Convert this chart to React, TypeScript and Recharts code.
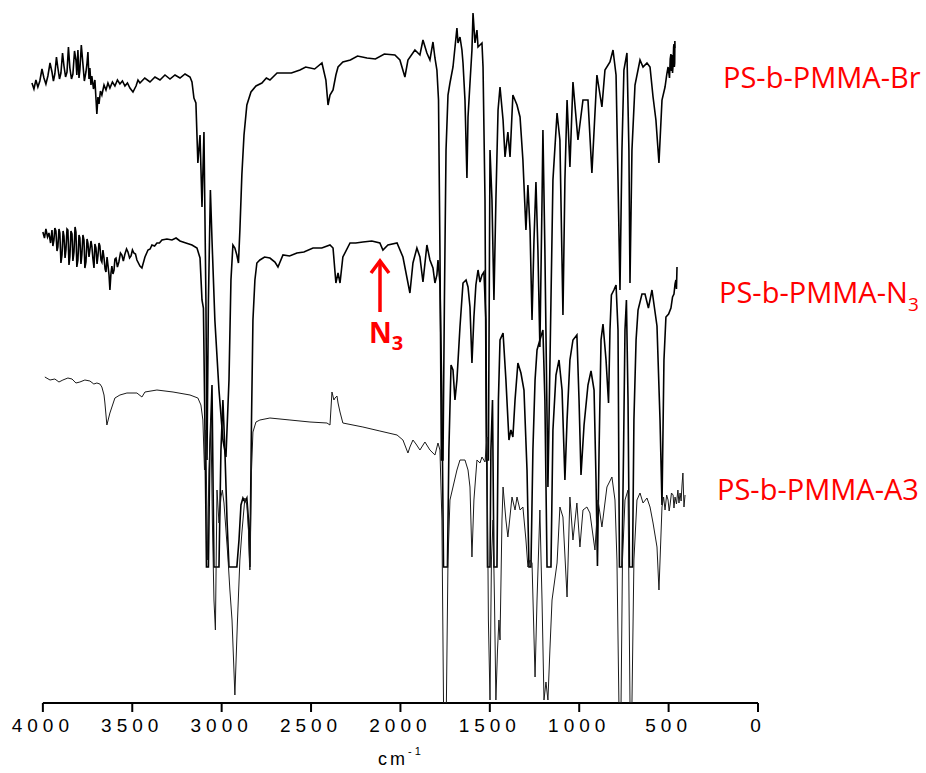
import { Line, LineChart, ReferenceLine, XAxis, YAxis } from "recharts";

const WN_TICKS = [4000, 3500, 3000, 2500, 2000, 1500, 1000, 500, 0];

// [wavenumber (cm-1), transmittance, offset (a.u.)]
const BR: [number, number][] = [
  [4061, 62.0], [4050, 61.4], [4039, 62.3], [4028, 61.6], [4017, 62.2], [4005, 63.4], [3994, 62.5],
  [3983, 61.9], [3972, 62.7], [3960, 64.0], [3949, 63.1], [3941, 62.2], [3933, 62.9], [3924, 64.6],
  [3916, 63.5], [3907, 62.4], [3899, 63.0], [3890, 65.0], [3882, 63.7], [3873, 62.6], [3865, 63.1],
  [3857, 65.6], [3849, 63.5], [3840, 62.4], [3832, 62.9], [3823, 65.2], [3815, 64.3], [3810, 62.8],
  [3804, 65.3], [3798, 62.5], [3793, 63.3], [3785, 65.8], [3776, 63.9], [3768, 62.2], [3759, 63.1],
  [3753, 64.0], [3748, 65.1], [3742, 62.4], [3737, 63.5], [3731, 61.8], [3726, 62.7], [3717, 61.4],
  [3709, 62.3], [3698, 58.9], [3692, 60.6], [3686, 59.9], [3678, 61.2], [3670, 60.8], [3658, 61.8],
  [3647, 61.3], [3636, 62.0], [3625, 61.5], [3611, 62.1], [3597, 61.7], [3583, 62.3], [3569, 61.9],
  [3555, 62.2], [3541, 61.7], [3527, 62.0], [3513, 61.5], [3496, 61.1], [3479, 61.7], [3468, 62.3],
  [3457, 62.0], [3430, 62.5], [3401, 62.1], [3373, 62.6], [3345, 62.3], [3317, 62.8], [3289, 62.4],
  [3261, 62.8], [3233, 62.5], [3205, 62.9], [3177, 62.6], [3166, 62.1], [3155, 60.5], [3144, 60.0],
  [3133, 54.0], [3121, 56.8], [3110, 49.6], [3099, 57.1], [3088, 40.3], [3082, 24.3], [3074, 40.3],
  [3063, 51.3], [3054, 46.3], [3038, 38.3], [3015, 31.3], [2993, 26.3], [2976, 24.6], [2959, 32.3],
  [2948, 42.3], [2937, 45.8], [2926, 45.5], [2915, 44.8], [2906, 44.0], [2898, 47.3], [2887, 52.8],
  [2875, 56.8], [2859, 59.8], [2836, 61.1], [2808, 61.7], [2775, 62.0], [2750, 62.5], [2730, 62.3],
  [2690, 63.0], [2657, 63.0], [2610, 63.0], [2562, 63.3], [2530, 63.6], [2480, 63.4], [2439, 64.0],
  [2417, 62.3], [2405, 59.8], [2394, 60.8], [2377, 61.3], [2361, 62.8], [2349, 63.6], [2322, 64.1],
  [2280, 64.3], [2240, 64.7], [2187, 64.5], [2140, 64.4], [2090, 64.9], [2031, 64.8], [2003, 64.3],
  [1975, 62.6], [1958, 64.3], [1919, 65.3], [1891, 64.8], [1874, 66.3], [1852, 65.0], [1835, 64.3],
  [1818, 66.1], [1807, 64.5], [1796, 63.3], [1787, 60.3], [1779, 45.3], [1771, 24.3], [1762, 24.3],
  [1754, 40.3], [1745, 55.3], [1734, 60.8], [1723, 62.0], [1706, 63.6], [1684, 67.5], [1678, 66.0],
  [1667, 66.6], [1656, 65.3], [1650, 64.0], [1639, 60.3], [1628, 52.5], [1622, 58.6], [1611, 62.0],
  [1600, 65.3], [1594, 69.0], [1583, 66.0], [1572, 67.3], [1566, 65.6], [1544, 66.0], [1538, 63.6],
  [1527, 50.3], [1519, 24.3], [1508, 24.3], [1499, 55.3], [1488, 50.3], [1477, 40.3], [1466, 50.3],
  [1454, 59.3], [1443, 61.6], [1426, 58.3], [1415, 54.6], [1399, 57.1], [1387, 54.6], [1371, 60.8],
  [1348, 59.8], [1331, 58.6], [1315, 54.3], [1298, 47.3], [1287, 51.8], [1275, 47.3], [1264, 38.3],
  [1253, 46.3], [1242, 52.1], [1231, 45.3], [1220, 35.6], [1208, 50.3], [1203, 57.3], [1192, 45.3],
  [1175, 21.6], [1158, 40.3], [1147, 52.3], [1124, 59.0], [1108, 56.3], [1091, 38.8], [1080, 52.3],
  [1068, 60.3], [1052, 53.6], [1035, 62.1], [1007, 56.3], [979, 60.3], [951, 60.3], [929, 53.0],
  [901, 62.8], [873, 59.6], [856, 63.3], [828, 64.1], [811, 65.3], [794, 62.8], [783, 52.3],
  [772, 41.3], [761, 55.3], [750, 63.3], [733, 65.0], [722, 55.3], [716, 42.0], [705, 55.3],
  [688, 61.8], [660, 64.3], [643, 63.6], [621, 64.0], [604, 63.6], [587, 60.6], [571, 58.3],
  [554, 54.0], [537, 60.3], [520, 61.6], [510, 62.9], [503, 63.6], [495, 62.5], [491, 64.4],
  [487, 64.9], [484, 63.2], [481, 64.8], [478, 63.0], [475, 63.8], [472, 65.6], [470, 65.9],
  [468, 63.6], [466, 64.0], [465, 66.2], [464, 65.5],
];

const N3: [number, number][] = [
  [4000, 47.1], [3991, 46.5], [3983, 47.4], [3974, 46.6], [3966, 47.0], [3957, 46.0], [3949, 47.3],
  [3944, 45.7], [3938, 46.3], [3933, 47.5], [3927, 47.2], [3921, 45.2], [3916, 45.6], [3910, 47.4],
  [3905, 47.0], [3899, 44.0], [3893, 44.8], [3887, 47.2], [3882, 46.7], [3876, 44.5], [3871, 45.3],
  [3865, 47.4], [3860, 47.3], [3854, 43.8], [3849, 44.6], [3843, 47.2], [3837, 46.9], [3832, 44.2],
  [3826, 45.1], [3820, 47.6], [3815, 47.1], [3810, 43.6], [3804, 44.3], [3798, 46.8], [3793, 46.5],
  [3787, 43.9], [3782, 44.8], [3776, 46.8], [3770, 46.3], [3765, 43.5], [3759, 44.1], [3753, 46.4],
  [3748, 46.0], [3742, 44.6], [3737, 45.3], [3731, 46.2], [3726, 45.7], [3720, 44.4], [3714, 43.5],
  [3709, 45.9], [3703, 45.5], [3697, 43.9], [3692, 44.7], [3686, 46.0], [3681, 45.7], [3675, 44.3],
  [3670, 44.1], [3664, 45.3], [3658, 44.5], [3652, 43.4], [3647, 43.1], [3641, 44.6], [3636, 43.8],
  [3630, 42.8], [3625, 41.3], [3619, 43.0], [3614, 43.7], [3608, 42.9], [3602, 43.3], [3597, 44.4],
  [3591, 44.5], [3583, 43.6], [3575, 44.1], [3566, 45.0], [3558, 44.8], [3550, 44.2], [3541, 44.9],
  [3532, 45.4], [3524, 45.1], [3515, 44.5], [3507, 44.7], [3499, 45.3], [3491, 45.0], [3482, 44.9],
  [3474, 44.3], [3457, 43.7], [3446, 43.5], [3429, 44.6], [3412, 45.3], [3400, 45.4], [3390, 45.8],
  [3375, 45.7], [3362, 46.0], [3348, 46.0], [3334, 46.3], [3306, 46.4], [3278, 46.3], [3255, 46.5],
  [3233, 46.2], [3200, 46.0], [3166, 45.8], [3138, 45.5], [3121, 44.5], [3110, 40.3], [3102, 39.5],
  [3094, 28.3], [3085, 13.6], [3074, 13.6], [3066, 25.3], [3054, 31.8], [3043, 13.6], [3015, 13.6],
  [3004, 25.3], [2993, 30.3], [2982, 25.3], [2970, 18.3], [2959, 13.6], [2915, 13.6], [2903, 16.3],
  [2892, 19.8], [2881, 20.5], [2870, 20.1], [2859, 20.5], [2850, 18.3], [2842, 13.6], [2833, 28.3],
  [2825, 38.3], [2814, 42.3], [2803, 44.0], [2786, 44.3], [2760, 44.6], [2730, 44.5], [2702, 44.1],
  [2685, 43.6], [2657, 44.8], [2620, 44.7], [2579, 45.0], [2540, 45.1], [2489, 45.5], [2440, 45.5],
  [2394, 45.8], [2377, 45.5], [2361, 42.0], [2349, 43.0], [2338, 42.0], [2322, 44.6], [2282, 46.0],
  [2250, 46.0], [2210, 46.1], [2160, 46.2], [2115, 46.0], [2098, 45.3], [2070, 45.8], [2019, 46.0],
  [1986, 44.6], [1947, 41.0], [1930, 44.0], [1908, 45.5], [1891, 44.6], [1874, 42.1], [1852, 45.8],
  [1835, 44.3], [1818, 43.5], [1807, 42.0], [1796, 42.8], [1790, 44.3], [1779, 42.0], [1768, 30.3],
  [1759, 13.6], [1737, 13.6], [1729, 25.3], [1717, 33.8], [1706, 33.3], [1695, 30.3], [1684, 32.3],
  [1667, 37.6], [1650, 42.0], [1633, 42.3], [1622, 41.6], [1611, 39.6], [1600, 34.0], [1589, 38.6],
  [1578, 41.8], [1566, 43.3], [1555, 42.1], [1544, 42.8], [1533, 43.1], [1522, 38.3], [1513, 13.6],
  [1499, 13.6], [1494, 25.3], [1485, 30.3], [1477, 13.6], [1460, 13.6], [1452, 30.3], [1443, 36.3],
  [1426, 37.0], [1410, 32.3], [1393, 26.3], [1382, 27.3], [1371, 26.6], [1359, 30.3], [1343, 34.0],
  [1326, 33.0], [1309, 31.3], [1292, 23.3], [1281, 13.6], [1270, 13.6], [1259, 25.3], [1247, 32.3],
  [1236, 35.3], [1220, 36.3], [1203, 37.3], [1192, 30.3], [1180, 13.6], [1158, 13.6], [1147, 27.3],
  [1130, 32.8], [1113, 34.3], [1096, 31.3], [1080, 22.3], [1068, 28.3], [1052, 34.3], [1035, 36.3],
  [1013, 36.8], [1001, 30.3], [990, 22.8], [973, 27.8], [951, 31.8], [934, 33.2], [917, 31.3],
  [906, 22.3], [898, 13.7], [889, 25.3], [878, 36.3], [867, 37.9], [850, 34.3], [836, 30.0],
  [828, 37.3], [820, 40.8], [806, 41.3], [794, 41.8], [783, 37.3], [775, 13.6], [761, 13.6],
  [752, 25.3], [744, 37.3], [736, 40.3], [727, 30.3], [719, 13.6], [702, 13.6], [694, 28.3],
  [682, 36.3], [671, 39.3], [649, 40.9], [632, 40.9], [613, 39.5], [593, 41.3], [565, 37.7],
  [548, 28.3], [537, 19.8], [526, 34.3], [515, 38.6], [500, 38.9], [487, 39.5], [478, 40.6],
  [470, 40.9], [464, 41.9], [459, 42.3], [456, 41.4], [453, 43.6],
];

const A3: [number, number][] = [
  [3989, 32.6], [3960, 32.3], [3933, 32.4], [3910, 32.1], [3888, 32.3], [3860, 32.5], [3837, 32.4],
  [3815, 32.0], [3793, 32.1], [3765, 32.3], [3737, 32.2], [3715, 31.9], [3698, 32.0], [3681, 31.9],
  [3670, 31.6], [3658, 30.8], [3653, 30.0], [3642, 27.8], [3625, 29.0], [3597, 30.5], [3569, 30.8],
  [3530, 31.0], [3474, 31.0], [3446, 30.6], [3429, 31.1], [3362, 31.3], [3272, 31.1], [3177, 30.8],
  [3133, 30.5], [3116, 29.8], [3105, 28.3], [3096, 23.3], [3088, 27.3], [3080, 14.3], [3071, 23.3],
  [3060, 28.3], [3052, 18.3], [3043, 10.3], [3035, 7.3], [3026, 21.3], [3015, 18.0], [3004, 20.6],
  [2996, 21.3], [2987, 20.0], [2976, 17.3], [2965, 14.6], [2954, 11.3], [2942, 8.3], [2926, 0.8],
  [2912, 8.0], [2898, 14.3], [2887, 17.0], [2870, 20.5], [2859, 19.8], [2850, 17.3], [2842, 13.3],
  [2833, 23.3], [2825, 27.1], [2808, 28.1], [2786, 28.3], [2730, 28.5], [2618, 28.3], [2506, 28.1],
  [2411, 28.0], [2394, 27.8], [2383, 31.1], [2372, 30.3], [2366, 30.5], [2355, 30.7], [2349, 30.0],
  [2338, 29.1], [2322, 28.0], [2210, 27.6], [2115, 27.2], [2019, 26.8], [1986, 26.3], [1958, 25.0],
  [1947, 25.6], [1930, 26.3], [1913, 25.9], [1891, 25.3], [1863, 26.1], [1835, 25.3], [1807, 24.8],
  [1790, 26.0], [1779, 25.3], [1768, 18.3], [1759, 0], [1743, 0], [1734, 14.3], [1723, 20.3],
  [1706, 21.6], [1684, 23.3], [1667, 24.3], [1639, 24.3], [1622, 23.3], [1611, 21.6], [1600, 14.6],
  [1589, 20.3], [1572, 24.3], [1555, 24.0], [1544, 24.6], [1527, 24.1], [1516, 26.6], [1508, 8.3],
  [1499, 0.3], [1491, 14.3], [1482, 18.3], [1474, 10.3], [1466, 0.3], [1457, 5.3], [1449, 8.3],
  [1443, 6.3], [1432, 18.3], [1426, 21.6], [1410, 18.3], [1399, 16.6], [1376, 20.6], [1359, 19.3],
  [1348, 20.6], [1331, 19.3], [1315, 19.6], [1298, 16.3], [1287, 13.6], [1275, 14.3], [1264, 14.0],
  [1247, 2.6], [1236, 10.3], [1220, 19.3], [1208, 10.3], [1197, 0.3], [1186, 2.1], [1175, 0.3],
  [1164, 5.3], [1152, 10.3], [1124, 14.0], [1108, 19.6], [1091, 18.6], [1068, 10.6], [1052, 20.6],
  [1035, 16.3], [1013, 20.0], [996, 15.6], [979, 19.3], [957, 19.6], [940, 19.0], [912, 15.3],
  [895, 20.3], [873, 17.6], [845, 21.6], [817, 22.6], [800, 20.3], [789, 14.3], [778, 0], [766, 0],
  [758, 14.3], [744, 20.3], [727, 21.3], [716, 0], [705, 0], [694, 14.3], [677, 20.3], [660, 21.0],
  [643, 20.0], [621, 20.5], [604, 19.6], [587, 18.0], [565, 15.6], [554, 11.3], [537, 19.6],
  [528, 20.6], [520, 19.3], [511, 20.8], [503, 20.3], [497, 19.2], [492, 19.8], [484, 21.0],
  [475, 20.8], [470, 19.5], [464, 20.6], [456, 19.9], [448, 21.3], [442, 20.0], [436, 21.0],
  [430, 20.2], [425, 21.8], [420, 23.0], [414, 19.6], [408, 20.8],
];

const SERIES = [
  { name: "PS-b-PMMA-Br", points: BR, width: 1.6, color: "#000" },
  { name: "PS-b-PMMA-N3", points: N3, width: 1.6, color: "#000" },
  { name: "PS-b-PMMA-A3", points: A3, width: 1, color: "#1a1a1a" },
];

const RED = "#ff0000";
const AXIS_FONT = '"Liberation Sans Narrow", "Liberation Sans", Arial, sans-serif';
const LABEL_FONT = '"Open Sans", "Noto Sans", sans-serif';

function rows(points: [number, number][]) {
  return points.map(([wn, t]) => ({ wn, t }));
}

export default function App() {
  return (
    <div style={{ position: "absolute", left: 0, top: 0, width: 926, height: 773, background: "#fff" }}>
      <LineChart width={926} height={773} margin={{ top: 0, right: 168, bottom: 0, left: 30 }}>
        <XAxis
          type="number"
          dataKey="wn"
          domain={[0, 4072]}
          reversed
          ticks={WN_TICKS}
          interval={0}
          height={70}
          axisLine={false}
          tickSize={9}
          tickMargin={7}
          tickLine={{ stroke: "#000", strokeWidth: 2 }}
          tick={{ fill: "#000", fontSize: 19, fontFamily: AXIS_FONT, letterSpacing: 5 }}
        />
        <YAxis type="number" hide domain={[0, 70.3]} allowDataOverflow />
        <ReferenceLine
          segment={[{ x: 4000, y: 0 }, { x: 0, y: 0 }]}
          stroke="#000"
          strokeWidth={2}
          ifOverflow="visible"
        />
        {SERIES.map((s) => (
          <Line
            key={s.name}
            data={rows(s.points)}
            dataKey="t"
            name={s.name}
            type="linear"
            stroke={s.color}
            strokeWidth={s.width}
            dot={false}
            activeDot={false}
            isAnimationActive={false}
          />
        ))}
      </LineChart>
      <svg
        width={926}
        height={773}
        style={{ position: "absolute", left: 0, top: 0, pointerEvents: "none" }}
      >
        <text x={723} y={88} fontSize={29} fill={RED} fontFamily={LABEL_FONT}>
          PS-b-PMMA-Br
        </text>
        <text x={719} y={303} fontSize={29} fill={RED} fontFamily={LABEL_FONT}>
          PS-b-PMMA-N<tspan fontSize={19} dy={8}>3</tspan>
        </text>
        <text x={717} y={500} fontSize={29} fill={RED} fontFamily={LABEL_FONT}>
          PS-b-PMMA-A3
        </text>

        <line x1={380} y1={312} x2={380} y2={262} stroke={RED} strokeWidth={3.5} />
        <polyline points="371,273 380,261 389,273" fill="none" stroke={RED} strokeWidth={3.5} />
        <text x={369} y={343} fontSize={28} fontWeight="bold" fill={RED} fontFamily={LABEL_FONT}>
          N<tspan fontSize={20} dy={7}>3</tspan>
        </text>

        <text x={378} y={765} fontSize={18} fill="#000" fontFamily={AXIS_FONT} letterSpacing={3}>
          cm<tspan fontSize={11} dy={-10}>-1</tspan>
        </text>
      </svg>
    </div>
  );
}
